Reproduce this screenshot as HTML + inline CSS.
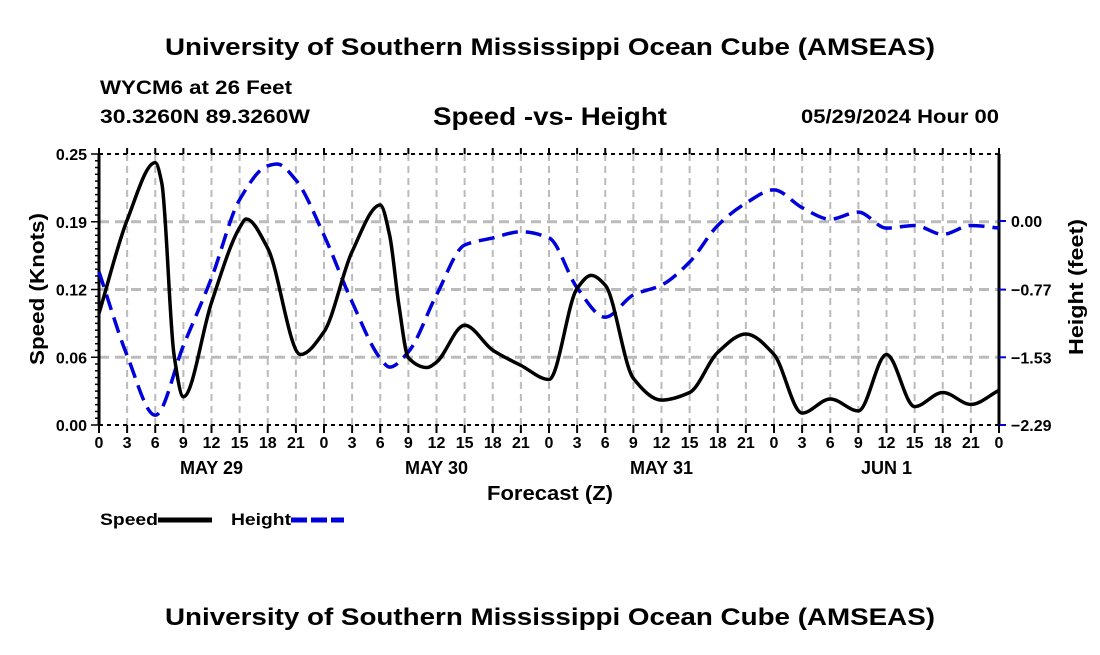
<!DOCTYPE html>
<html><head><meta charset="utf-8"><style>
body{margin:0;background:#fff;}
svg text{font-family:"Liberation Sans",Arial,sans-serif;font-weight:bold;fill:#000;}
</style></head><body>
<svg id="chart" width="1100" height="650" xmlns="http://www.w3.org/2000/svg">
<text x="165" y="55" font-size="24" textLength="770" lengthAdjust="spacingAndGlyphs">University of Southern Mississippi Ocean Cube (AMSEAS)</text>
<text x="100" y="94" font-size="19" textLength="192" lengthAdjust="spacingAndGlyphs">WYCM6 at 26 Feet</text>
<text x="100" y="123" font-size="19" textLength="210" lengthAdjust="spacingAndGlyphs">30.3260N  89.3260W</text>
<text x="433" y="125" font-size="25" textLength="234" lengthAdjust="spacingAndGlyphs">Speed -vs- Height</text>
<text x="801" y="123" font-size="19" textLength="198" lengthAdjust="spacingAndGlyphs">05/29/2024 Hour 00</text>
<text x="165" y="625" font-size="24" textLength="770" lengthAdjust="spacingAndGlyphs">University of Southern Mississippi Ocean Cube (AMSEAS)</text>
<text transform="translate(44,365) rotate(-90)" font-size="20" textLength="152" lengthAdjust="spacingAndGlyphs">Speed (Knots)</text>
<text transform="translate(1083,355) rotate(-90)" font-size="20" textLength="136" lengthAdjust="spacingAndGlyphs">Height (feet)</text>
<text x="487" y="500" font-size="20" textLength="126" lengthAdjust="spacingAndGlyphs">Forecast (Z)</text>
<g>
<text x="100" y="525" font-size="17" textLength="58" lengthAdjust="spacingAndGlyphs">Speed</text>
<line x1="158" y1="520" x2="212" y2="520" stroke="#000" stroke-width="5"/>
<text x="231" y="525" font-size="17" textLength="60" lengthAdjust="spacingAndGlyphs">Height</text>
<line x1="291" y1="520" x2="344" y2="520" stroke="#0000dd" stroke-width="5" stroke-dasharray="16,4"/>
</g>
<g id="grid"></g><g id="axes"></g><g id="series"></g>
</svg>
<script>
const speedHours=[0,3,6,6.7,8,9,12,15,15.7,18,21.5,24,27,30,31,32,33,35,36,39,42,45,48,51,52.5,54,57,60,63,66,69,72,75,78,81,84,87,90,93,96];
const speedValues=[0.103,0.189,0.242,0.223,0.065,0.026,0.113,0.182,0.19,0.163,0.065,0.086,0.160,0.203,0.175,0.11,0.062,0.053,0.058,0.092,0.069,0.055,0.042,0.126,0.138,0.129,0.043,0.023,0.030,0.067,0.084,0.065,0.011,0.024,0.013,0.065,0.017,0.030,0.019,0.032];
const heightHours=[0,3,6,9,12,15,18,19,21,24,27,30,31,33,36,39,42,45,48,51,54,57,60,63,66,69,72,75,78,81,84,87,90,93,96];
const heightValues=[-0.57,-1.51,-2.18,-1.40,-0.64,0.24,0.62,0.64,0.46,-0.16,-0.91,-1.54,-1.64,-1.47,-0.83,-0.27,-0.19,-0.12,-0.19,-0.75,-1.08,-0.83,-0.72,-0.46,-0.05,0.20,0.35,0.15,0.02,0.10,-0.08,-0.05,-0.15,-0.05,-0.08];
const hourTickLabels=["0","3","6","9","12","15","18","21"];
const dateLabels=["MAY 29","MAY 30","MAY 31","JUN 1"];
const speedTicks=[0,0.0625,0.125,0.1875,0.25];
const speedTickLabels=["0.00","0.06","0.12","0.19","0.25"];
const heightTicks=[-2.29,-1.53,-0.77,0.00];
const heightTickLabels=["\u22122.29","\u22121.53","\u22120.77","0.00"];

const X0=99,X1=999,Y0=425,Y1=154;
const xs=h=>X0+(X1-X0)*h/96;
const ySpeed=v=>Y0-(Y0-Y1)*v/0.25;
const yHeight=v=>221-(v-0)*204/2.29;
const NS="http://www.w3.org/2000/svg";
function mk(tag,attrs,parent){const e=document.createElementNS(NS,tag);for(const k in attrs)e.setAttribute(k,attrs[k]);parent.appendChild(e);return e;}
const grid=document.getElementById('grid'),axes=document.getElementById('axes'),series=document.getElementById('series');

for(let h=3;h<96;h+=3){
  const l=mk('line',{x1:xs(h),x2:xs(h),y1:Y1,y2:Y0,stroke:'#bbb','stroke-width':2,'stroke-dasharray':'7,5'},grid);
  
  
}
for(let i=1;i<speedTicks.length-1;i++){
  const l=mk('line',{x1:X0,x2:X1,y1:ySpeed(speedTicks[i]),y2:ySpeed(speedTicks[i]),stroke:'#bbb','stroke-width':3,'stroke-dasharray':'10,6'},grid);
  
  
}
let a=mk('line',{x1:X0,x2:X0,y1:Y1,y2:Y0,stroke:'#000','stroke-width':3},axes);

a=mk('line',{x1:X1,x2:X1,y1:Y1,y2:Y0,stroke:'#000','stroke-width':3},axes);

a=mk('line',{x1:X0,x2:X1,y1:Y0,y2:Y0,stroke:'#000','stroke-width':2,'stroke-dasharray':'4,4'},axes);

a=mk('line',{x1:X0,x2:X1,y1:Y1,y2:Y1,stroke:'#000','stroke-width':2,'stroke-dasharray':'4,4'},axes);

for(let i=0;i<=40;i++){const y=Y0-(Y0-Y1)*i/40;const len=i%10==0?8:4;
  const t=mk('line',{x1:X0,x2:X0-len,y1:y,y2:y,stroke:'#000','stroke-width':1.5},axes);
  }
speedTicks.forEach((v,i)=>{const t=mk('text',{x:X0-12,y:ySpeed(v)+6,'font-size':16,'text-anchor':'end'},axes);t.textContent=speedTickLabels[i];
  });
heightTicks.forEach((v,i)=>{const y=yHeight(v);
  const l=mk('line',{x1:X1,x2:X1+7,y1:y,y2:y,stroke:'#0000dd','stroke-width':2},axes);
  
  const t=mk('text',{x:X1+12,y:y+6,'font-size':16},axes);t.textContent=heightTickLabels[i];
  });
for(let h=0;h<=96;h+=3){const x=xs(h);
  const l=mk('line',{x1:x,x2:x,y1:Y0,y2:Y0+8,stroke:'#000','stroke-width':2},axes);
  
  const l2=mk('line',{x1:x,x2:x,y1:Y1,y2:Y1-6,stroke:'#000','stroke-width':2},axes);
  
  const t=mk('text',{x:x,y:448,'font-size':16,'text-anchor':'middle'},axes);t.textContent=hourTickLabels[(h/3)%8];
  }
dateLabels.forEach((d,i)=>{const t=mk('text',{x:xs(12+24*i),y:474,'font-size':18,'text-anchor':'middle'},axes);t.textContent=d;
  });

function smooth(hs,vs,fy){
  const X=hs.map(xs),Y=vs.map(fy),n=X.length;
  const dk=[],m=[];
  for(let i=0;i<n-1;i++)dk.push((Y[i+1]-Y[i])/(X[i+1]-X[i]));
  m[0]=dk[0];m[n-1]=dk[n-2];
  for(let i=1;i<n-1;i++){
    if(dk[i-1]*dk[i]<=0)m[i]=0;
    else{const w1=2*(X[i+1]-X[i])+(X[i]-X[i-1]),w2=(X[i+1]-X[i])+2*(X[i]-X[i-1]);
      m[i]=(w1+w2)/(w1/dk[i-1]+w2/dk[i]);}
  }
  let d='M'+X[0]+','+Y[0];
  for(let i=0;i<n-1;i++){const h=(X[i+1]-X[i])/3;
    d+=' C'+(X[i]+h)+','+(Y[i]+m[i]*h)+' '+(X[i+1]-h)+','+(Y[i+1]-m[i+1]*h)+' '+X[i+1]+','+Y[i+1];}
  return d;
}
let s=mk('path',{d:smooth(heightHours,heightValues,yHeight),fill:'none',stroke:'#0000dd','stroke-width':3.5,'stroke-dasharray':'16,8'},series);

s=mk('path',{d:smooth(speedHours,speedValues,ySpeed),fill:'none',stroke:'#000','stroke-width':3.5},series);

</script>
</body></html>
